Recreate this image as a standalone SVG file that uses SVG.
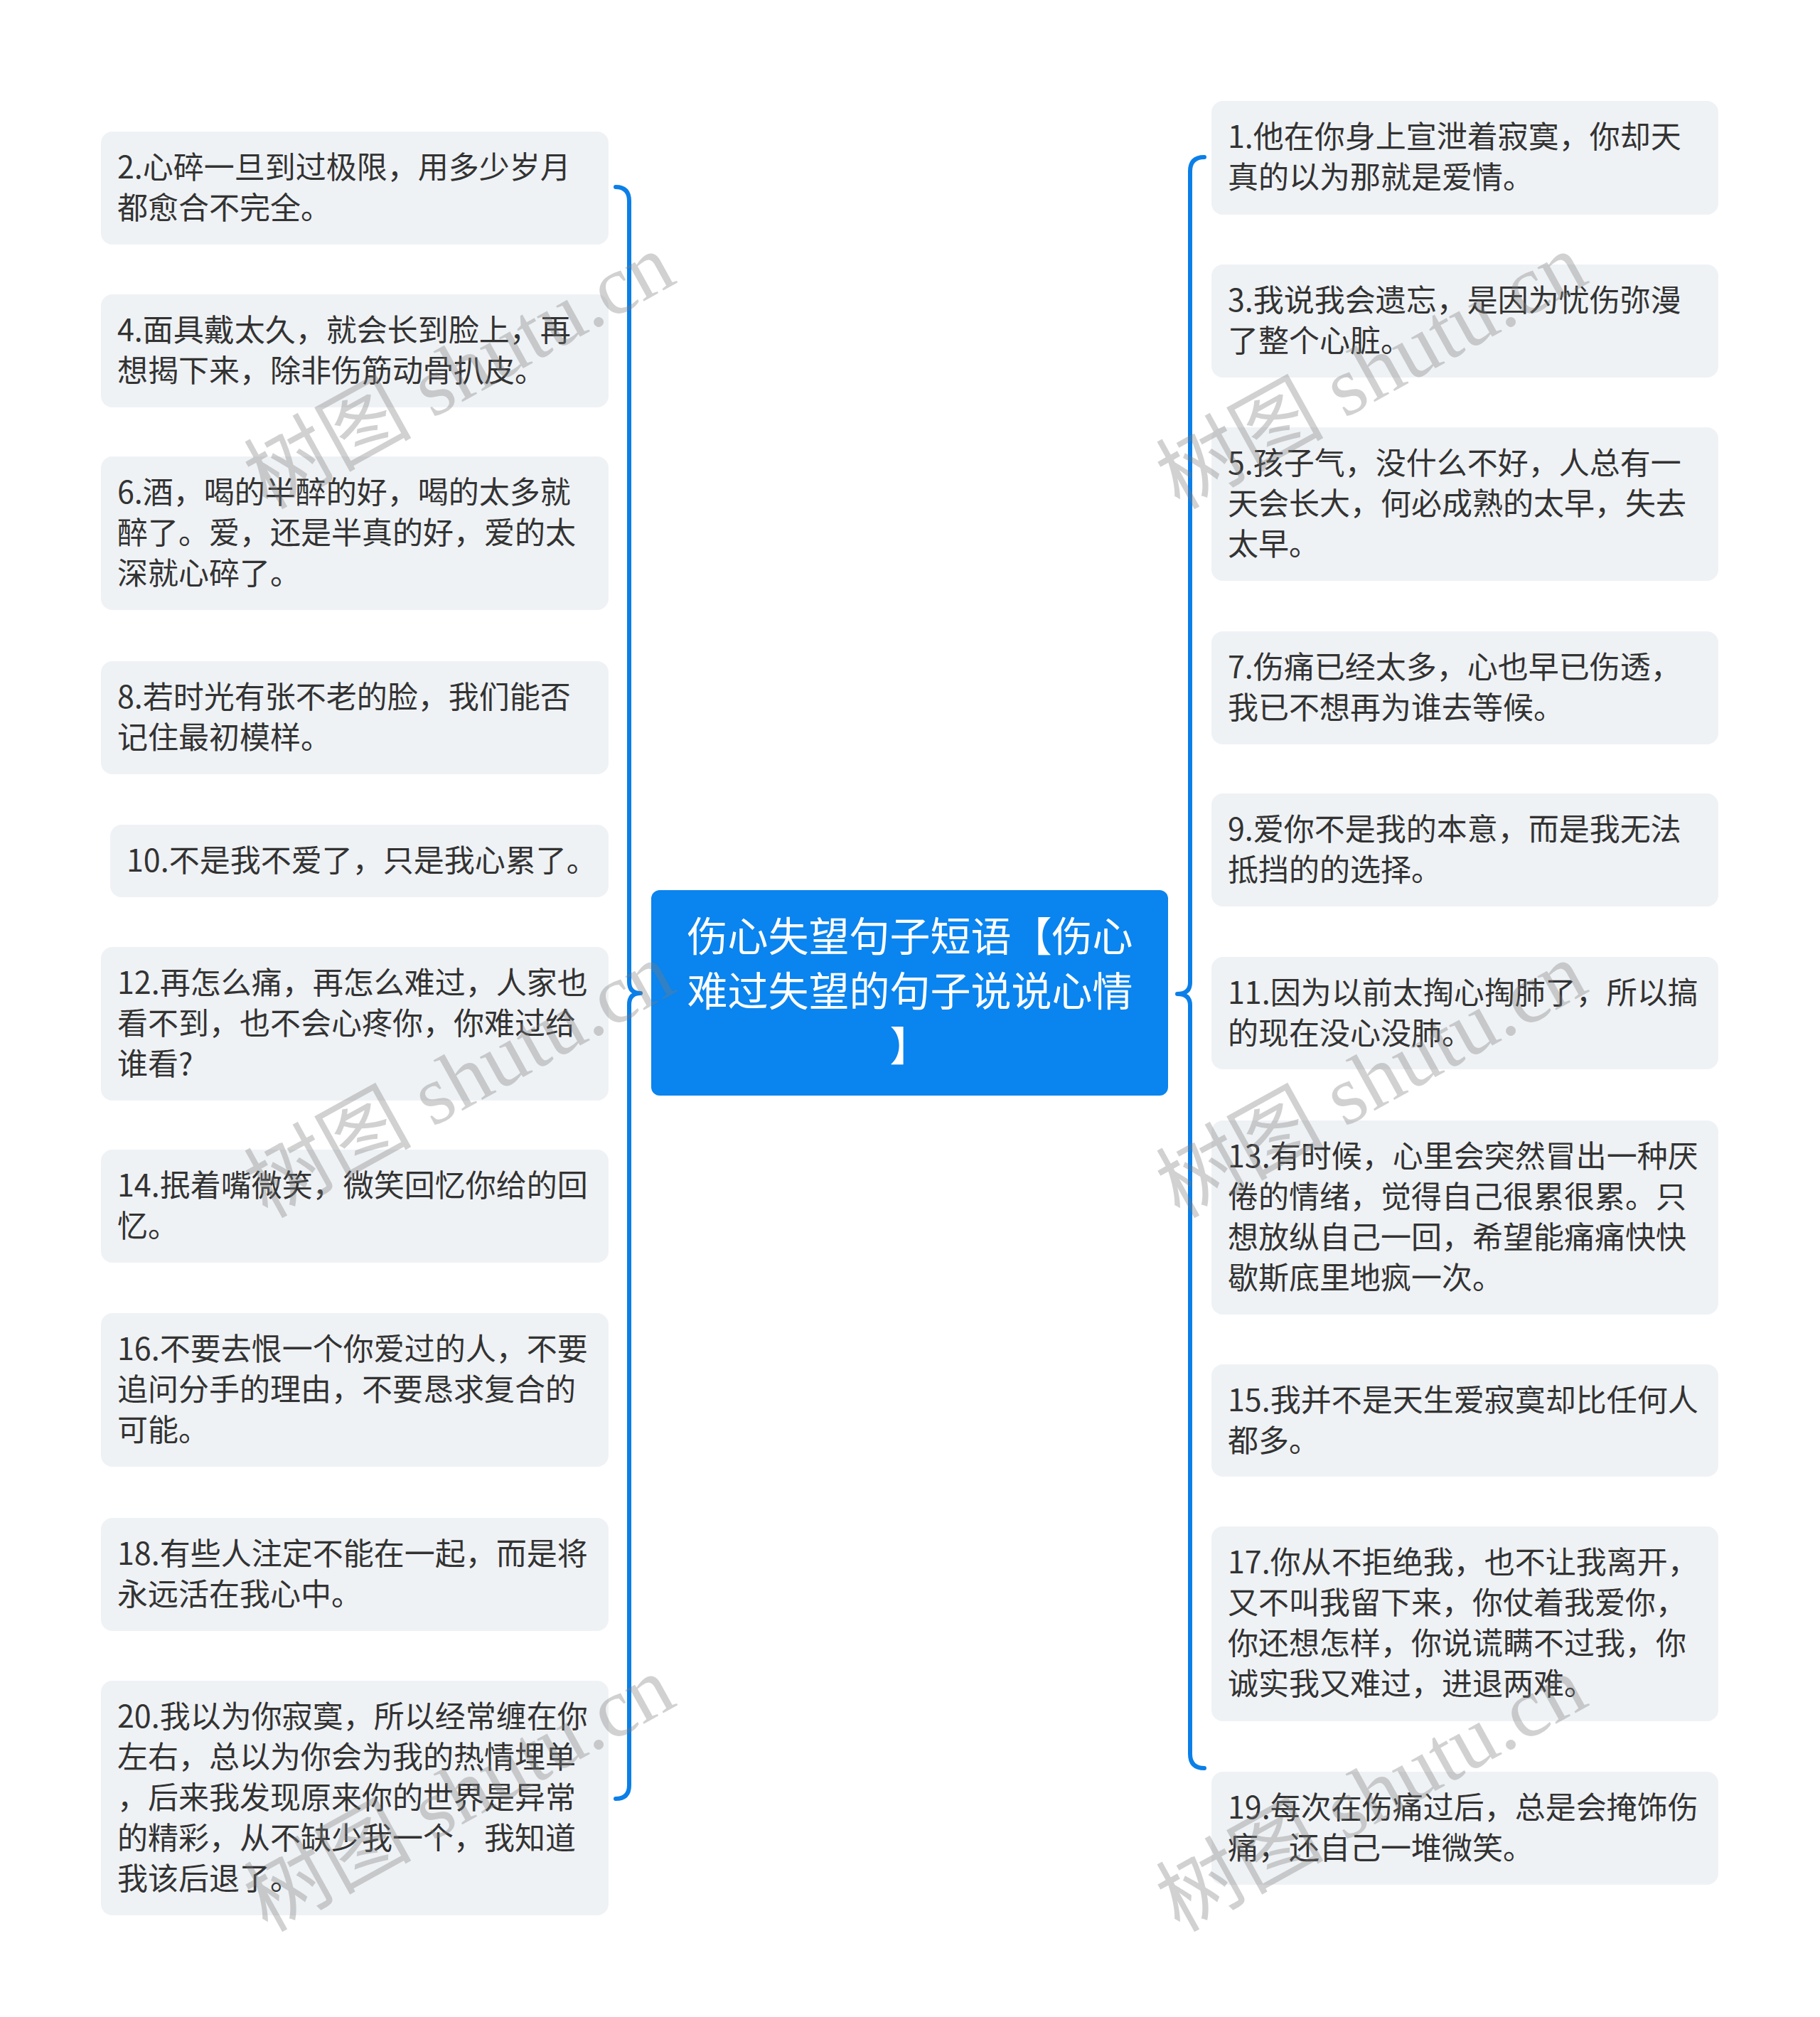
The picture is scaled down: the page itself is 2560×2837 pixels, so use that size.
<svg xmlns="http://www.w3.org/2000/svg" width="2560" height="2837" viewBox="0 0 2560 2837">
<style>
.bg{fill:#ffffff}
.node rect{fill:#eff2f5}
.node text{font-family:"Noto Sans CJK SC","Noto Sans",sans-serif;font-size:43px;fill:#333333}
.root rect{fill:#0a84ee}
.root text{font-family:"Noto Sans CJK SC","Noto Sans",sans-serif;font-size:57px;fill:#ffffff;text-anchor:middle}
.conn path{fill:none;stroke:#0b7fe8;stroke-width:6;stroke-linecap:round;stroke-linejoin:round}
.wm text{font-family:"Liberation Serif","Noto Sans CJK SC",serif;font-size:118px;fill:#7a7a7a;fill-opacity:0.35;text-anchor:middle}
</style>
<rect class="bg" x="0" y="0" width="2560" height="2837"/>

<g id="connectors" class="conn">
<path d="M 866 263 Q 885 263 885 283 L 885 1381 Q 885 1397 901 1397 Q 885 1397 885 1413 L 885 2511 Q 885 2530 866 2530"/>
<path d="M 1694 221 Q 1674 221 1674 241 L 1674 1382 Q 1674 1398 1656 1398 Q 1674 1398 1674 1414 L 1674 2467 Q 1674 2487 1694 2487"/>
</g>

<g id="root" class="root">
<rect x="916" y="1252" width="727" height="289" rx="12"/>
<text x="1280" y="1338">伤心失望句子短语【伤心</text>
<text x="1280" y="1415">难过失望的句子说说心情</text>
<text x="1280" y="1492">】</text>
</g>

<g id="n2" class="node"><rect x="142" y="185" width="714" height="159" rx="16"/>
<text x="165" y="251"><tspan x="165">2.心碎一旦到过极限，用多少岁月</tspan><tspan x="165" dy="57">都愈合不完全。</tspan></text></g>
<g id="n4" class="node"><rect x="142" y="414" width="714" height="159" rx="16"/>
<text x="165" y="480"><tspan x="165">4.面具戴太久，就会长到脸上，再</tspan><tspan x="165" dy="57">想揭下来，除非伤筋动骨扒皮。</tspan></text></g>
<g id="n6" class="node"><rect x="142" y="642" width="714" height="216" rx="16"/>
<text x="165" y="708"><tspan x="165">6.酒，喝的半醉的好，喝的太多就</tspan><tspan x="165" dy="57">醉了。爱，还是半真的好，爱的太</tspan><tspan x="165" dy="57">深就心碎了。</tspan></text></g>
<g id="n8" class="node"><rect x="142" y="930" width="714" height="159" rx="16"/>
<text x="165" y="996"><tspan x="165">8.若时光有张不老的脸，我们能否</tspan><tspan x="165" dy="57">记住最初模样。</tspan></text></g>
<g id="n10" class="node"><rect x="155" y="1160" width="701" height="102" rx="16"/>
<text x="178" y="1226">10.不是我不爱了，只是我心累了。</text></g>
<g id="n12" class="node"><rect x="142" y="1332" width="714" height="216" rx="16"/>
<text x="165" y="1398"><tspan x="165">12.再怎么痛，再怎么难过，人家也</tspan><tspan x="165" dy="57">看不到，也不会心疼你，你难过给</tspan><tspan x="165" dy="57">谁看?</tspan></text></g>
<g id="n14" class="node"><rect x="142" y="1617" width="714" height="159" rx="16"/>
<text x="165" y="1683"><tspan x="165">14.抿着嘴微笑，微笑回忆你给的回</tspan><tspan x="165" dy="57">忆。</tspan></text></g>
<g id="n16" class="node"><rect x="142" y="1847" width="714" height="216" rx="16"/>
<text x="165" y="1913"><tspan x="165">16.不要去恨一个你爱过的人，不要</tspan><tspan x="165" dy="57">追问分手的理由，不要恳求复合的</tspan><tspan x="165" dy="57">可能。</tspan></text></g>
<g id="n18" class="node"><rect x="142" y="2135" width="714" height="159" rx="16"/>
<text x="165" y="2201"><tspan x="165">18.有些人注定不能在一起，而是将</tspan><tspan x="165" dy="57">永远活在我心中。</tspan></text></g>
<g id="n20" class="node"><rect x="142" y="2364" width="714" height="330" rx="16"/>
<text x="165" y="2430"><tspan x="165">20.我以为你寂寞，所以经常缠在你</tspan><tspan x="165" dy="57">左右，总以为你会为我的热情埋单</tspan><tspan x="165" dy="57">，后来我发现原来你的世界是异常</tspan><tspan x="165" dy="57">的精彩，从不缺少我一个，我知道</tspan><tspan x="165" dy="57">我该后退了。</tspan></text></g>

<g id="n1" class="node"><rect x="1704" y="142" width="713" height="160" rx="16"/>
<text x="1727" y="208"><tspan x="1727">1.他在你身上宣泄着寂寞，你却天</tspan><tspan x="1727" dy="57">真的以为那就是爱情。</tspan></text></g>
<g id="n3" class="node"><rect x="1704" y="372" width="713" height="159" rx="16"/>
<text x="1727" y="438"><tspan x="1727">3.我说我会遗忘，是因为忧伤弥漫</tspan><tspan x="1727" dy="57">了整个心脏。</tspan></text></g>
<g id="n5" class="node"><rect x="1704" y="601" width="713" height="216" rx="16"/>
<text x="1727" y="667"><tspan x="1727">5.孩子气，没什么不好，人总有一</tspan><tspan x="1727" dy="57">天会长大，何必成熟的太早，失去</tspan><tspan x="1727" dy="57">太早。</tspan></text></g>
<g id="n7" class="node"><rect x="1704" y="888" width="713" height="159" rx="16"/>
<text x="1727" y="954"><tspan x="1727">7.伤痛已经太多，心也早已伤透，</tspan><tspan x="1727" dy="57">我已不想再为谁去等候。</tspan></text></g>
<g id="n9" class="node"><rect x="1704" y="1116" width="713" height="159" rx="16"/>
<text x="1727" y="1182"><tspan x="1727">9.爱你不是我的本意，而是我无法</tspan><tspan x="1727" dy="57">抵挡的的选择。</tspan></text></g>
<g id="n11" class="node"><rect x="1704" y="1346" width="713" height="158" rx="16"/>
<text x="1727" y="1412"><tspan x="1727">11.因为以前太掏心掏肺了，所以搞</tspan><tspan x="1727" dy="57">的现在没心没肺。</tspan></text></g>
<g id="n13" class="node"><rect x="1704" y="1576" width="713" height="273" rx="16"/>
<text x="1727" y="1642"><tspan x="1727">13.有时候，心里会突然冒出一种厌</tspan><tspan x="1727" dy="57">倦的情绪，觉得自己很累很累。只</tspan><tspan x="1727" dy="57">想放纵自己一回，希望能痛痛快快</tspan><tspan x="1727" dy="57">歇斯底里地疯一次。</tspan></text></g>
<g id="n15" class="node"><rect x="1704" y="1919" width="713" height="158" rx="16"/>
<text x="1727" y="1985"><tspan x="1727">15.我并不是天生爱寂寞却比任何人</tspan><tspan x="1727" dy="57">都多。</tspan></text></g>
<g id="n17" class="node"><rect x="1704" y="2147" width="713" height="274" rx="16"/>
<text x="1727" y="2213"><tspan x="1727">17.你从不拒绝我，也不让我离开，</tspan><tspan x="1727" dy="57">又不叫我留下来，你仗着我爱你，</tspan><tspan x="1727" dy="57">你还想怎样，你说谎瞒不过我，你</tspan><tspan x="1727" dy="57">诚实我又难过，进退两难。</tspan></text></g>
<g id="n19" class="node"><rect x="1704" y="2492" width="713" height="159" rx="16"/>
<text x="1727" y="2558"><tspan x="1727">19.每次在伤痛过后，总是会掩饰伤</tspan><tspan x="1727" dy="57">痛，还自己一堆微笑。</tspan></text></g>

<g id="watermark" class="wm">
<text transform="translate(646 522) rotate(-29)" x="0" y="40">树图 shutu.cn</text>
<text transform="translate(1929 522) rotate(-29)" x="0" y="40">树图 shutu.cn</text>
<text transform="translate(646 1519) rotate(-29)" x="0" y="40">树图 shutu.cn</text>
<text transform="translate(1929 1519) rotate(-29)" x="0" y="40">树图 shutu.cn</text>
<text transform="translate(646 2523) rotate(-29)" x="0" y="40">树图 shutu.cn</text>
<text transform="translate(1929 2523) rotate(-29)" x="0" y="40">树图 shutu.cn</text>
</g>
</svg>
